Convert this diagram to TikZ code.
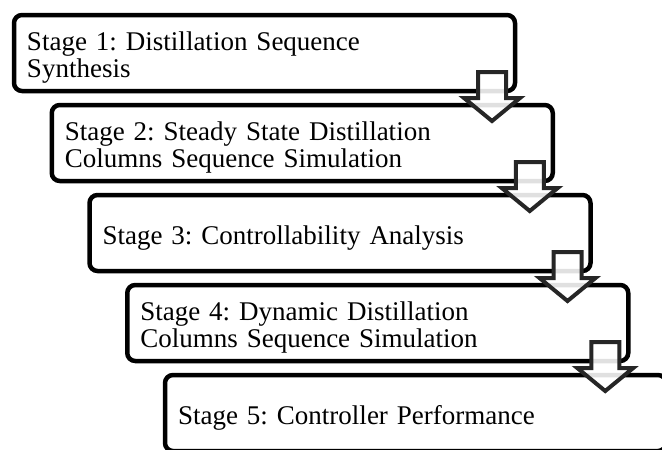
\documentclass[tikz,border=0pt]{standalone}
\usepackage{fontspec}
\setmainfont{Liberation Serif}
\usetikzlibrary{calc}

\tikzset{
  stage/.style={draw, line width=4.5pt, rounded corners=8pt, outer sep=0pt,
    text width=475pt, inner xsep=13pt, inner ysep=0pt, minimum height=76pt,
    text height=28.5pt, align=left, font=\fontsize{27}{27}\selectfont\frenchspacing},
  downarrow/.style={draw=black!85, line width=4pt, fill=white, fill opacity=0.88}
}

\begin{document}
\begin{tikzpicture}[x=1pt,y=-1pt]
        \useasboundingbox (0,0) rectangle (662,450);
        \clip (0,0) rectangle (662,450);
        \node[stage] (s1) at (264.5,53) {Stage 1: Distillation Sequence\\Synthesis};
        \node[stage] (s2) at (302.25,143) {Stage 2: Steady State Distillation\\Columns Sequence Simulation};
        \node[stage] (s3) at (340,233) {Stage 3: Controllability Analysis};
        \node[stage] (s4) at (377.75,323) {Stage 4: Dynamic Distillation\\Columns Sequence Simulation};
        \node[stage] (s5) at (415.5,413) {Stage 5: Controller Performance};
        % block arrows between the stages
        \draw[downarrow] ($(s1.south east)+(-37,-19)$) -- ++(28,0) -- ++(0,26) -- ++(14,0) -- ++(-28,23) -- ++(-28,-23) -- ++(14,0) -- cycle;
        \draw[downarrow] ($(s2.south east)+(-37,-19)$) -- ++(28,0) -- ++(0,26) -- ++(14,0) -- ++(-28,23) -- ++(-28,-23) -- ++(14,0) -- cycle;
        \draw[downarrow] ($(s3.south east)+(-37,-19)$) -- ++(28,0) -- ++(0,26) -- ++(14,0) -- ++(-28,23) -- ++(-28,-23) -- ++(14,0) -- cycle;
        \draw[downarrow] ($(s4.south east)+(-37,-19)$) -- ++(28,0) -- ++(0,26) -- ++(14,0) -- ++(-28,23) -- ++(-28,-23) -- ++(14,0) -- cycle;
      \end{tikzpicture}
\end{document}
